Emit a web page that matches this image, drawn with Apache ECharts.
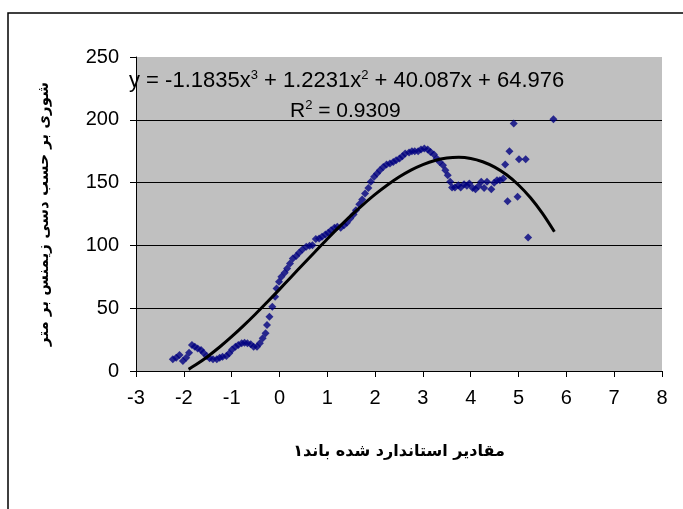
<!DOCTYPE html>
<html>
<head>
<meta charset="utf-8">
<script src="https://cdn.jsdelivr.net/npm/echarts@6/dist/echarts.min.js"></script>
<style>
  html, body { margin: 0; padding: 0; background: #fff; }
  #main { width: 683px; height: 509px; }
</style>
</head>
<body>
<div id="main"></div>
<script>
// standardised band-1 values (x) and salinity (y)
var bandX = [
  -2.23, -2.16, -2.09, -2.02, -1.95, -1.89, -1.83, -1.77, -1.71, -1.64,
  -1.59, -1.52, -1.46, -1.39, -1.31, -1.25, -1.19, -1.11, -1.05, -0.99,
  -0.92, -0.86, -0.79, -0.73, -0.67, -0.60, -0.54, -0.47, -0.41, -0.35,
  -0.29, -0.26, -0.21, -0.15, -0.09, -0.06, -0.01, 0.04, 0.11, 0.16,
  0.22, 0.28, 0.35, 0.41, 0.48, 0.56, 0.63, 0.69, 0.76, 0.83,
  0.89, 0.96, 1.02, 1.08, 1.15, 1.21, 1.28, 1.35, 1.41, 1.48,
  1.55, 1.60, 1.67, 1.73, 1.79, 1.86, 1.91, 1.98, 2.04, 2.10,
  2.17, 2.24, 2.31, 2.38, 2.44, 2.51, 2.57, 2.63, 2.71, 2.77,
  2.83, 2.90, 2.96, 3.03, 3.10, 3.16, 3.23, 3.29, 3.35, 3.42,
  3.47, 3.52, 3.57, 3.61, 3.67, 3.74, 3.79, 3.86, 3.92, 3.97,
  4.04, 4.10, 4.16, 4.22, 4.28, 4.34, 4.43, 4.49, 4.55, 4.61,
  4.68, 4.72, 4.77, 4.81, 4.90, 4.98, 5.01, 5.15, 5.20, 5.73
];
var salinity = [
  9.3, 10.6, 12.7, 8.0, 10.6, 14.6, 20.7, 19.4, 18.0, 16.7,
  14.6, 11.9, 10.1, 9.3, 9.3, 10.6, 11.4, 11.9, 14.1, 17.2,
  19.4, 20.7, 22.0, 22.5, 22.0, 21.2, 19.4, 19.4, 22.0, 26.0,
  30.0, 36.6, 43.2, 51.2, 59.1, 65.7, 71.0, 75.0, 78.2, 81.7,
  85.6, 89.6, 91.5, 94.1, 96.8, 98.9, 99.7, 100.2, 105.0, 105.5,
  106.8, 108.7, 110.0, 112.1, 114.0, 114.8, 114.0, 116.1, 118.0, 121.4,
  124.6, 128.0, 132.8, 136.5, 141.3, 145.8, 150.6, 154.6, 157.2, 159.9,
  162.5, 164.4, 165.2, 166.5, 167.8, 169.1, 171.0, 173.1, 173.9, 175.0,
  175.0, 175.0, 176.3, 177.1, 176.3, 174.4, 172.3, 169.1, 166.5, 163.8,
  159.9, 155.9, 150.6, 146.1, 146.1, 147.9, 146.1, 148.7, 147.4, 149.3,
  145.8, 144.8, 147.1, 150.6, 145.8, 150.6, 144.8, 149.8, 151.9, 151.9,
  153.2, 164.4, 135.2, 175.0, 197.0, 138.7, 168.6, 168.6, 106.3, 200.4
];

// trendline as drawn in the picture
var trendX = [
  -1.9, -1.75, -1.5, -1.25, -1.0, -0.75, -0.5, -0.25, 0, 0.25, 0.5, 0.75,
  1.0, 1.25, 1.5, 1.75, 2.0, 2.25, 2.5, 2.75, 3.0, 3.25, 3.5, 3.75,
  4.0, 4.25, 4.5, 4.75, 5.0, 5.25, 5.5, 5.75
];
var trendY = [
  1.3, 4.9, 11.6, 19.1, 27.3, 36.1, 45.4, 55.1, 65.0, 75.1, 85.2, 95.2,
  105.1, 114.7, 123.9, 132.5, 140.6, 147.9, 154.4, 159.9, 164.3, 167.6, 169.5, 170.1,
  169.2, 166.6, 162.3, 156.2, 148.1, 137.9, 125.5, 110.9
];

var xTicks = { min: -3, max: 8, step: 1 };
var yTicks = { min: 0, max: 250, step: 50 };

var xName = 'مقادیر استاندارد شده باند۱';
var yName = 'شوری بر حسب دسی زیمنس بر متر';

var chart = echarts.init(document.getElementById('main'));

var points = bandX.map(function (x, i) { return [x, salinity[i]]; });
var trend = trendX.map(function (x, i) { return [x, trendY[i]]; });

var tickFont = 'Liberation Sans, Arial, sans-serif';

chart.setOption({
  animation: false,
  backgroundColor: '#fff',
  grid: {
    left: 136, right: 21, top: 57, bottom: 138,
    show: true, backgroundColor: '#c0c0c0', borderWidth: 0
  },
  xAxis: {
    type: 'value',
    min: xTicks.min, max: xTicks.max, interval: xTicks.step,
    name: xName,
    nameLocation: 'middle',
    nameGap: 73,
    nameTextStyle: { fontFamily: 'DejaVu Sans', fontWeight: 'bold', fontSize: 16, color: '#000' },
    axisLine: { onZero: false, lineStyle: { color: '#000', width: 1 } },
    axisTick: { show: true, length: 6, lineStyle: { color: '#000' } },
    splitLine: { show: false },
    axisLabel: { color: '#000', fontSize: 20, fontFamily: tickFont, margin: 17 }
  },
  yAxis: {
    type: 'value',
    min: yTicks.min, max: yTicks.max, interval: yTicks.step,
    name: yName,
    nameLocation: 'middle',
    nameRotate: 90,
    nameGap: 84,
    nameTextStyle: { fontFamily: 'DejaVu Sans', fontWeight: 'bold', fontSize: 15, color: '#000' },
    axisLine: { show: true, onZero: false, lineStyle: { color: '#000', width: 1 } },
    axisTick: { show: true, length: 6, lineStyle: { color: '#000' } },
    splitLine: { show: true, showMaxLine: false, lineStyle: { color: '#000', width: 1 } },
    axisLabel: { color: '#000', fontSize: 20, fontFamily: tickFont, margin: 17 }
  },
  series: [
    {
      type: 'scatter',
      data: points,
      symbol: 'diamond',
      symbolSize: 8,
      itemStyle: { color: '#000080' },
      z: 2
    },
    {
      type: 'line',
      data: trend,
      smooth: 0.3,
      showSymbol: false,
      lineStyle: { color: '#000', width: 3 },
      z: 3
    }
  ],
  graphic: [
    {
      type: 'rect',
      shape: { x: 8, y: 13, width: 700, height: 520 },
      style: { fill: 'none', stroke: '#000', lineWidth: 1.5 },
      silent: true
    },
    {
      type: 'text',
      left: 129, top: 69,
      style: {
        text: '{n|y = -1.1835x}{s|3}{n| + 1.2231x}{s|2}{n| + 40.087x + 64.976}',
        fill: '#000',
        rich: {
          n: { fontSize: 22, fontFamily: tickFont, fill: '#000' },
          s: { fontSize: 13, fontFamily: tickFont, fill: '#000', verticalAlign: 'top', padding: [0, 0, 11, 0] }
        }
      },
      z: 10
    },
    {
      type: 'text',
      left: 290, top: 99,
      style: {
        text: '{n|R}{s|2}{n| = 0.9309}',
        fill: '#000',
        rich: {
          n: { fontSize: 21, fontFamily: tickFont, fill: '#000' },
          s: { fontSize: 13, fontFamily: tickFont, fill: '#000', verticalAlign: 'top', padding: [0, 0, 11, 0] }
        }
      },
      z: 10
    }
  ]
});
</script>
</body>
</html>
